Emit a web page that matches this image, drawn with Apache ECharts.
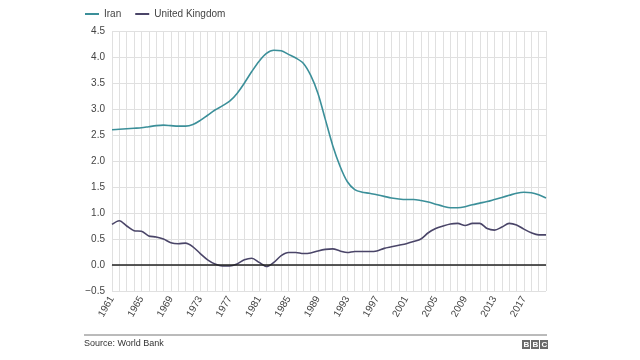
<!DOCTYPE html>
<html><head><meta charset="utf-8">
<script src="https://cdn.jsdelivr.net/npm/echarts@6/dist/echarts.min.js"></script>
<style>html,body{margin:0;padding:0;background:#fff}#c{width:640px;height:360px}</style>
</head><body><div id="c"></div>
<script>
const years = [];
for (let y = 1961; y <= 2020; y++) years.push(String(y));
const iran = [2.60,2.61,2.62,2.63,2.64,2.66,2.68,2.69,2.68,2.67,2.67,2.70,2.78,2.88,2.98,3.06,3.15,3.30,3.50,3.72,3.92,4.07,4.13,4.12,4.05,3.98,3.88,3.65,3.30,2.80,2.30,1.90,1.60,1.45,1.40,1.38,1.35,1.32,1.29,1.27,1.26,1.26,1.24,1.21,1.17,1.13,1.10,1.10,1.12,1.16,1.19,1.22,1.26,1.30,1.34,1.38,1.40,1.39,1.35,1.29];
const uk = [0.78,0.85,0.75,0.66,0.65,0.56,0.54,0.50,0.43,0.41,0.42,0.35,0.22,0.10,0.02,-0.02,-0.02,0.02,0.10,0.13,0.05,-0.03,0.05,0.18,0.24,0.24,0.22,0.23,0.27,0.30,0.31,0.27,0.24,0.26,0.26,0.26,0.27,0.32,0.35,0.38,0.41,0.45,0.50,0.62,0.70,0.75,0.79,0.80,0.76,0.80,0.80,0.70,0.67,0.73,0.80,0.77,0.69,0.62,0.58,0.58];
const seriesNames = ['Iran','United Kingdom'];
const colors = ['#3b8f99','#4a4568'];
const sourceText = 'Source: World Bank';

const chart = echarts.init(document.getElementById('c'), null, {renderer:'canvas'});
const font = 'Liberation Sans, Arial, sans-serif';
chart.setOption({
  animation:false,
  textStyle:{fontFamily:font},
  legend:{left:80, top:4, itemWidth:14, itemHeight:2, itemGap:14, icon:'rect',
    textStyle:{color:'#444', fontSize:10, fontFamily:font},
    data:seriesNames},
  grid:{left:112, right:94, top:31, bottom:69},
  xAxis:{type:'category', data:years, boundaryGap:false,
    axisLine:{lineStyle:{color:'#ddd'}},
    axisTick:{show:true, interval:0, length:4, lineStyle:{color:'#ddd'}},
    axisLabel:{interval:3, rotate:60, color:'#444', fontSize:10, fontFamily:font, margin:6},
    splitLine:{show:true, interval:0, lineStyle:{color:'#e0e0e0', width:1}}},
  yAxis:{type:'value', min:-0.5, max:4.5, interval:0.5,
    axisLine:{show:false}, axisTick:{show:false},
    axisLabel:{color:'#444', fontSize:10, fontFamily:font, margin:7,
      formatter:v=>v.toFixed(1).replace('-','\u2212')},
    splitLine:{lineStyle:{color:'#e0e0e0', width:1}}},
  series:[
    {name:seriesNames[0], type:'line', data:iran, smooth:0.3, symbol:'none',
     lineStyle:{color:colors[0], width:1.6}, itemStyle:{color:colors[0]}, z:3},
    {name:seriesNames[1], type:'line', data:uk, smooth:0.3, symbol:'none',
     lineStyle:{color:colors[1], width:1.6}, itemStyle:{color:colors[1]}, z:3,
     markLine:{silent:true, symbol:'none', label:{show:false},
       lineStyle:{color:'#222', width:1.5, type:'solid'}, data:[{yAxis:0}]}}
  ],
  graphic:[
    {type:'line', shape:{x1:84, y1:335, x2:547, y2:335}, style:{stroke:'#777', lineWidth:1}},
    {type:'text', left:84, top:339, style:{text:sourceText, fill:'#333', fontSize:9, fontFamily:font}},
    {type:'group', left:522, top:340, children:[
      {type:'rect', shape:{x:0,y:0,width:8,height:9}, style:{fill:'#6a6a6a'}},
      {type:'text', x:1.5, y:1, style:{text:'B', fill:'#fff', fontSize:8, fontWeight:'bold', fontFamily:font}},
      {type:'rect', shape:{x:9,y:0,width:8,height:9}, style:{fill:'#6a6a6a'}},
      {type:'text', x:10.5, y:1, style:{text:'B', fill:'#fff', fontSize:8, fontWeight:'bold', fontFamily:font}},
      {type:'rect', shape:{x:18,y:0,width:8,height:9}, style:{fill:'#6a6a6a'}},
      {type:'text', x:19.5, y:1, style:{text:'C', fill:'#fff', fontSize:8, fontWeight:'bold', fontFamily:font}}
    ]}
  ]
});
</script></body></html>
